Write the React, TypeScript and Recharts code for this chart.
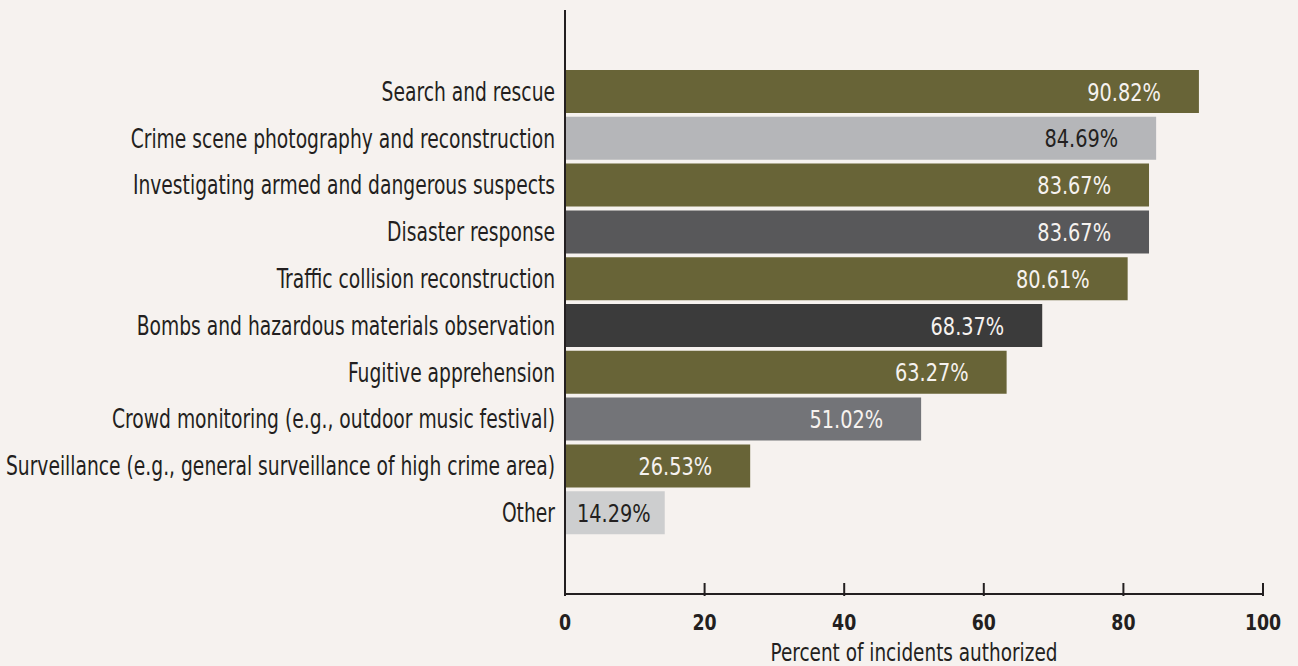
import { BarChart, Bar, XAxis, YAxis, Cell, LabelList } from 'recharts';

const categories = [
  'Search and rescue',
  'Crime scene photography and reconstruction',
  'Investigating armed and dangerous suspects',
  'Disaster response',
  'Traffic collision reconstruction',
  'Bombs and hazardous materials observation',
  'Fugitive apprehension',
  'Crowd monitoring (e.g., outdoor music festival)',
  'Surveillance (e.g., general surveillance of high crime area)',
  'Other',
];

const percents = [90.82, 84.69, 83.67, 83.67, 80.61, 68.37, 63.27, 51.02, 26.53, 14.29];

const xTicks = [0, 20, 40, 60, 80, 100];

const barColors = ['#686437', '#b5b6b9', '#686437', '#58585a', '#686437', '#3b3b3b', '#686437', '#737478', '#686437', '#cdcecf'];
const labelColors = ['#f6f2ef', '#231f20', '#f6f2ef', '#f6f2ef', '#f6f2ef', '#f6f2ef', '#f6f2ef', '#f6f2ef', '#f6f2ef', '#231f20'];

const FONT = '"DejaVu Sans Condensed", "DejaVu Sans", sans-serif';
const INK = '#231f20';
const BG = '#f6f2ef';

const data = categories.map((name, i) => ({ name, value: percents[i] }));

// the source uses a condensed face; squeeze DejaVu horizontally to match
function Squeezed({ x, y, sx, anchor, children, ...rest }: any) {
  return (
    <text transform={`translate(${x},${y}) scale(${sx},1)`} x={0} y={0} textAnchor={anchor} {...rest}>
      {children}
    </text>
  );
}

function XTick(props: any) {
  const { x, y, payload } = props;
  return (
    <g>
      <line x1={x} x2={x} y1={y - 13} y2={y} stroke={INK} strokeWidth={2} />
      <Squeezed x={x} y={y + 34} sx={0.92} anchor="middle" fill={INK} fontFamily={FONT} fontWeight="bold" fontSize={21}>
        {payload.value}
      </Squeezed>
    </g>
  );
}

function YTick(props: any) {
  const { x, y, payload } = props;
  return (
    <Squeezed x={x} y={y} sx={0.8} anchor="end" dy="0.36em" fill={INK} fontFamily={FONT} fontSize={26}>
      {payload.value}
    </Squeezed>
  );
}

function BarValue(props: any) {
  const { x, y, width, height, value, index } = props;
  const small = width < 130;
  return (
    <Squeezed
      x={small ? x + 12 : x + width - 38}
      y={y + height / 2}
      sx={0.86}
      dy="0.36em"
      anchor={small ? 'start' : 'end'}
      fill={labelColors[index]}
      fontFamily={FONT}
      fontSize={25}
    >
      {value.toFixed(2)}%
    </Squeezed>
  );
}

function AxisTitle(props: any) {
  const { viewBox } = props;
  return (
    <Squeezed x={viewBox.x + viewBox.width / 2} y={viewBox.y + 67} sx={0.82} anchor="middle" fill={INK} fontFamily={FONT} fontSize={25}>
      Percent of incidents authorized
    </Squeezed>
  );
}

export default function App() {
  return (
    <div style={{ position: 'absolute', left: 0, top: 0, width: 1298, height: 666, background: BG, overflow: 'hidden' }}>
      <style>{`body{margin:0;background:${BG};}`}</style>
      <BarChart
        width={1298}
        height={666}
        data={data}
        layout="vertical"
        margin={{ top: 10, right: 35, left: 0, bottom: 0 }}
      >
        <XAxis
          type="number"
          domain={[0, 100]}
          ticks={xTicks}
          height={72}
          tickSize={0}
          tickLine={false}
          axisLine={{ stroke: INK, strokeWidth: 2 }}
          tick={<XTick />}
          interval={0}
          label={<AxisTitle />}
        />
        <YAxis
          type="category"
          dataKey="name"
          width={565}
          tickSize={0}
          tickMargin={10}
          tickLine={false}
          axisLine={{ stroke: INK, strokeWidth: 2 }}
          padding={{ top: 58, bottom: 58 }}
          interval={0}
          tick={<YTick />}
        />
        <Bar dataKey="value" barSize={43} isAnimationActive={false}>
          {data.map((_, i) => (
            <Cell key={i} fill={barColors[i]} />
          ))}
          <LabelList dataKey="value" content={<BarValue />} />
        </Bar>
      </BarChart>
    </div>
  );
}
